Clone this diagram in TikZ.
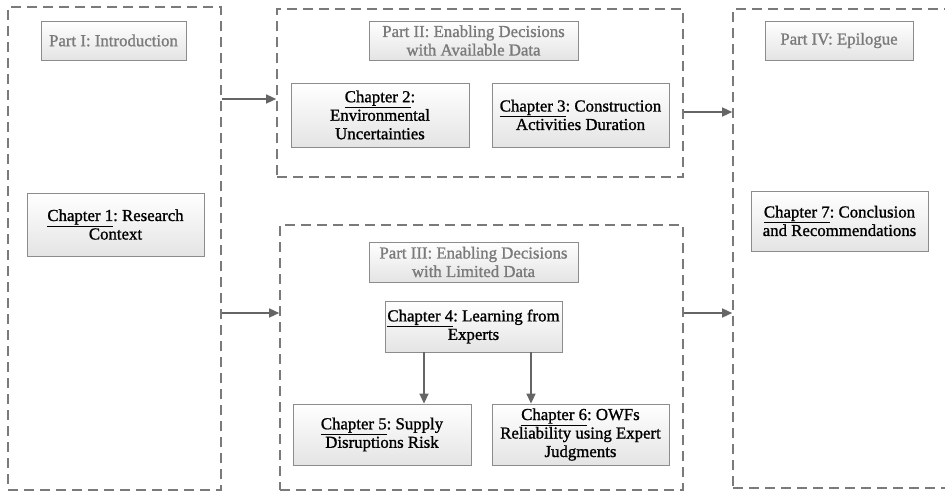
\documentclass[tikz,border=0pt]{standalone}
\usepackage{fontspec}
\setmainfont{Liberation Serif}[RawFeature={embolden=1.1}]
\frenchspacing
\usetikzlibrary{arrows.meta,shadows}
\definecolor{dashgray}{HTML}{7A7A7A}
\definecolor{boxline}{HTML}{8C8C8C}
\definecolor{titlegray}{HTML}{7A7A7A}
\definecolor{arrowgray}{HTML}{656565}
\definecolor{boxbottom}{HTML}{E4E4E4}
\tikzset{
  part/.style={draw=dashgray, line width=1.6pt, dash pattern=on 10pt off 6pt,
    rectangle, inner sep=0pt},
  chbox/.style={draw=boxline, line width=0.8pt, rectangle, inner sep=2pt,
    top color=white, bottom color=boxbottom, align=center,
    font=\fontsize{16.8}{18.5}\selectfont\frenchspacing,
    drop shadow={shadow xshift=1.4pt, shadow yshift=-1.4pt, fill=black!22}},
  titlebox/.style={chbox, text=titlegray},
  arr/.style={draw=arrowgray, line width=1.4pt,
    -{Triangle[length=10pt, width=9pt]}},
}
\begin{document}
\begin{tikzpicture}[x=1pt, y=-1pt]
\useasboundingbox (0,0) rectangle (945,492);
\clip (0,0) rectangle (945,492);

% dashed part frames
\node[part, minimum width=213pt, minimum height=483pt] (p1) at (114.5,248.5) {};
\node[part, minimum width=406pt, minimum height=168pt] (p2) at (480,93) {};
\node[part, minimum width=403pt, minimum height=265pt] (p3) at (481.5,357.5) {};
\node[part, minimum width=215pt, minimum height=479pt] (p4) at (840.5,248.5) {};

% Part I
\node[titlebox, minimum width=145pt, minimum height=39pt] (t1) at (113.5,40.5) {Part I: Introduction};
\node[chbox, minimum width=177pt, minimum height=63pt] (c1) at (115.5,224.5)
  {\underline{Chapter 1}: Research\\Context};

% Part II
\node[titlebox, minimum width=209pt, minimum height=39pt] (t2) at (473.5,40.5)
  {Part II: Enabling Decisions\\with Available Data};
\node[chbox, minimum width=178pt, minimum height=64pt] (c2) at (380,115)
  {\underline{Chapter 2}:\\Environmental\\Uncertainties};
\node[chbox, minimum width=177pt, minimum height=64pt] (c3) at (580.5,115)
  {\underline{Chapter 3}: Construction\\Activities Duration};

% Part III
\node[titlebox, minimum width=209pt, minimum height=40pt] (t3) at (473.5,262)
  {Part III: Enabling Decisions\\with Limited Data};
\node[chbox, minimum width=177pt, minimum height=51pt] (c4) at (473.5,326.5)
  {\underline{Chapter 4}: Learning from\\Experts};
\node[chbox, minimum width=178pt, minimum height=61pt] (c5) at (382,434.5)
  {\underline{Chapter 5}: Supply\\Disruptions Risk};
\node[chbox, minimum width=177pt, minimum height=61pt] (c6) at (580.5,434.5)
  {\underline{Chapter 6}: OWFs\\Reliability using Expert\\Judgments};

% Part IV
\node[titlebox, minimum width=148pt, minimum height=39pt] (t4) at (839,40.5) {Part IV: Epilogue};
\node[chbox, minimum width=177pt, minimum height=60pt] (c7) at (839.5,221)
  {\underline{Chapter 7}: Conclusion\\and Recommendations};

% connectors between parts
\draw[arr] (p1.east |- 0,99) -- (p2.west |- 0,99);
\draw[arr] (p1.east |- 0,313) -- (p3.west |- 0,313);
\draw[arr] (p2.east |- 0,112) -- (p4.west |- 0,112);
\draw[arr] (p3.east |- 0,313) -- (p4.west |- 0,313);

% connectors inside Part III
\draw[arr] (c4.south -| 424,0) -- (c5.north -| 424,0);
\draw[arr] (c4.south -| 531,0) -- (c6.north -| 531,0);
\end{tikzpicture}
\end{document}
